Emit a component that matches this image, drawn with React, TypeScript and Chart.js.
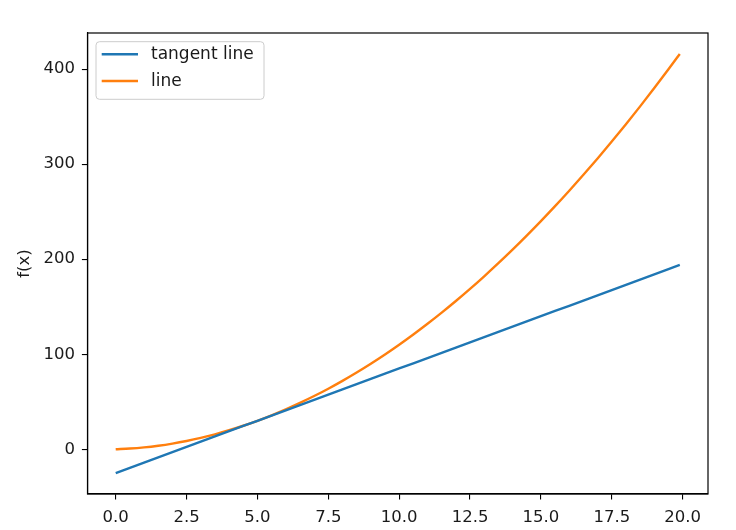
import React, { useEffect, useRef } from "react";
import { Chart, registerables } from "chart.js";

Chart.register(...registerables);

const xValues = [0, 0.5, 1, 1.5, 2, 2.5, 3, 3.5, 4, 4.5, 5, 5.5, 6, 6.5, 7, 7.5, 8, 8.5, 9, 9.5, 10, 10.5, 11, 11.5, 12, 12.5, 13, 13.5, 14, 14.5, 15, 15.5, 16, 16.5, 17, 17.5, 18, 18.5, 19, 19.5, 19.9];
const tangentValues = [-25, -19.5, -14, -8.5, -3, 2.5, 8, 13.5, 19, 24.5, 30, 35.5, 41, 46.5, 52, 57.5, 63, 68.5, 74, 79.5, 85, 90.5, 96, 101.5, 107, 112.5, 118, 123.5, 129, 134.5, 140, 145.5, 151, 156.5, 162, 167.5, 173, 178.5, 184, 189.5, 193.9];
const lineValues = [0, 0.75, 2, 3.75, 6, 8.75, 12, 15.75, 20, 24.75, 30, 35.75, 42, 48.75, 56, 63.75, 72, 80.75, 90, 99.75, 110, 120.75, 132, 143.75, 156, 168.75, 182, 195.75, 210, 224.75, 240, 255.75, 272, 288.75, 306, 323.75, 342, 360.75, 380, 399.75, 415.9];
const xTicks = [0, 2.5, 5, 7.5, 10, 12.5, 15, 17.5, 20];
const yTicks = [0, 100, 200, 300, 400];
const seriesNames = ["tangent line", "line"];
const seriesColors = ["#1f77b4", "#ff7f0e"];
const yLabel = "f(x)";

const FONT = "'DejaVu Sans', sans-serif";

export default function App() {
  const ref = useRef<HTMLCanvasElement | null>(null);
  useEffect(() => {
    if (!ref.current) return;
    const toPts = (ys: number[]) => xValues.map((x, i) => ({ x, y: ys[i] }));
    const framePlugin = {
      id: "frameLegend",
      afterDraw(chart: any) {
        const ctx = chart.ctx as CanvasRenderingContext2D;
        const a = chart.chartArea;
        ctx.save();
        ctx.strokeStyle = "#000";
        ctx.lineWidth = 1.2;
        ctx.strokeRect(a.left, a.top, a.right - a.left, a.bottom - a.top);
        // legend
        const bx = a.left + 8.5, by = a.top + 8.7, bw = 168, bh = 57.6, r = 3.5;
        ctx.beginPath();
        ctx.moveTo(bx + r, by);
        ctx.lineTo(bx + bw - r, by);
        ctx.quadraticCurveTo(bx + bw, by, bx + bw, by + r);
        ctx.lineTo(bx + bw, by + bh - r);
        ctx.quadraticCurveTo(bx + bw, by + bh, bx + bw - r, by + bh);
        ctx.lineTo(bx + r, by + bh);
        ctx.quadraticCurveTo(bx, by + bh, bx, by + bh - r);
        ctx.lineTo(bx, by + r);
        ctx.quadraticCurveTo(bx, by, bx + r, by);
        ctx.closePath();
        ctx.fillStyle = "rgba(255,255,255,0.8)";
        ctx.fill();
        ctx.strokeStyle = "#cccccc";
        ctx.lineWidth = 1;
        ctx.stroke();
        ctx.font = `17px ${FONT}`;
        ctx.textBaseline = "middle";
        ctx.textAlign = "left";
        seriesNames.forEach((name, i) => {
          const ly = by + 12.6 + i * 26.7;
          ctx.strokeStyle = seriesColors[i];
          ctx.lineWidth = 2.4;
          ctx.beginPath();
          ctx.moveTo(bx + 5.7, ly);
          ctx.lineTo(bx + 42, ly);
          ctx.stroke();
          ctx.fillStyle = "#1a1a1a";
          ctx.fillText(name, bx + 55, ly + 0.5);
        });
        // y label
        ctx.save();
        ctx.font = `16.5px ${FONT}`;
        ctx.translate(25, (a.top + a.bottom) / 2);
        ctx.rotate(-Math.PI / 2);
        ctx.textAlign = "center";
        ctx.textBaseline = "middle";
        ctx.fillStyle = "#1a1a1a";
        ctx.fillText(yLabel, 0, 0);
        ctx.restore();
        ctx.restore();
      },
    };
    const chart = new Chart(ref.current, {
      type: "scatter",
      data: {
        datasets: [
          {
            label: seriesNames[0],
            data: toPts(tangentValues),
            showLine: true,
            borderColor: seriesColors[0],
            backgroundColor: seriesColors[0],
            borderWidth: 2.4,
            pointRadius: 0,
          },
          {
            label: seriesNames[1],
            data: toPts(lineValues),
            showLine: true,
            borderColor: seriesColors[1],
            backgroundColor: seriesColors[1],
            borderWidth: 2.4,
            pointRadius: 0,
            cubicInterpolationMode: "monotone",
          },
        ],
      },
      options: {
        animation: false,
        responsive: false,
        layout: { padding: { left: 0, top: 33, right: 28, bottom: 0 } },
        plugins: { legend: { display: false }, tooltip: { enabled: false } },
        scales: {
          x: {
            type: "linear",
            min: -0.995,
            max: 20.895,
            afterBuildTicks: (s: any) => {
              s.ticks = xTicks.map((v) => ({ value: v }));
            },
            afterFit: (s: any) => {
              s.height = 36;
            },
            grid: { drawOnChartArea: false, drawTicks: true, tickLength: 5.6, color: "#000", lineWidth: 1.1 },
            border: { display: true, color: "#000", width: 1.2 },
            ticks: {
              color: "#1a1a1a",
              font: { family: FONT, size: 16.5 },
              padding: 8,
              maxRotation: 0,
              autoSkip: false,
              callback: (v: any) => Number(v).toFixed(1),
            },
          },
          y: {
            type: "linear",
            min: -47.045,
            max: 437.945,
            afterBuildTicks: (s: any) => {
              s.ticks = yTicks.map((v) => ({ value: v }));
            },
            afterFit: (s: any) => {
              s.width = 87.5;
            },
            grid: { drawOnChartArea: false, drawTicks: true, tickLength: 5.6, color: "#000", lineWidth: 1.1 },
            border: { display: true, color: "#000", width: 1.2 },
            ticks: {
              color: "#1a1a1a",
              font: { family: FONT, size: 16.5 },
              padding: 7,
              autoSkip: false,
              callback: (v: any) => String(v),
            },
          },
        },
      },
      plugins: [framePlugin],
    } as any);
    return () => chart.destroy();
  }, []);
  return (
    <div style={{ position: "fixed", left: 0, top: 0, width: 736, height: 530, background: "#fff" }}>
      <canvas ref={ref} width={736} height={530} style={{ width: 736, height: 530, display: "block" }} />
    </div>
  );
}
